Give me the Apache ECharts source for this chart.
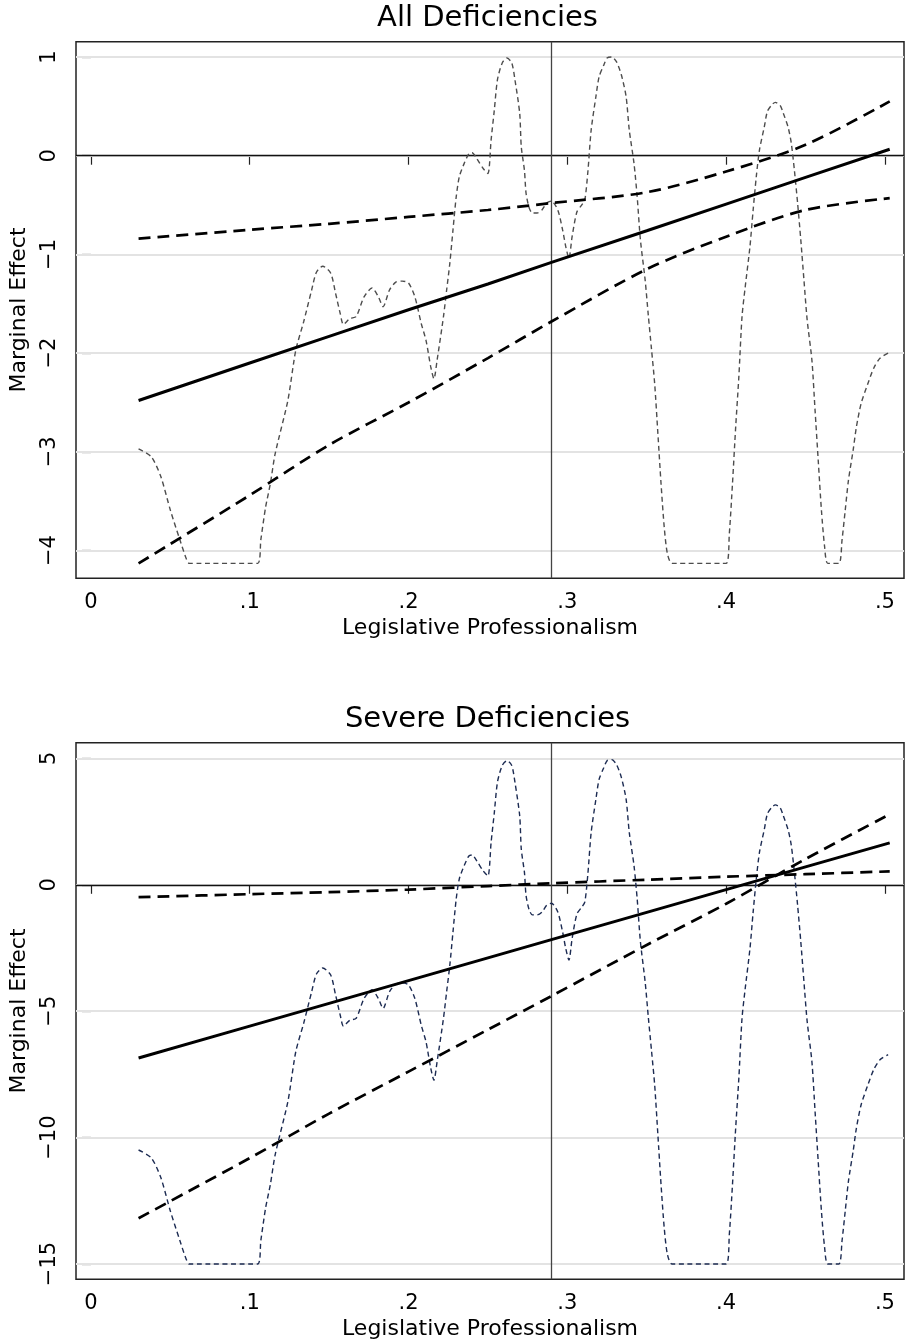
<!DOCTYPE html>
<html>
<head>
<meta charset="utf-8">
<script src="https://cdn.jsdelivr.net/npm/echarts@6/dist/echarts.min.js"></script>
<style>
  html, body { margin: 0; padding: 0; background: #fff; }
  #chart { width: 905px; height: 1344px; }
</style>
</head>
<body>
<div id="chart"></div>
<script>
// 刻度
const xTicks = [0, 0.1, 0.2, 0.3, 0.4, 0.5];
const allTicks = [-4, -3, -2, -1, 0, 1];
const sevTicks = [-15, -10, -5, 0, 5];
const meanX = 0.29;

// 边际效应及置信区间 (x 位置)
const lineX = [0.03, 0.1, 0.15, 0.2, 0.25, 0.29, 0.35, 0.4, 0.45, 0.503];
const allEffect = [-2.48, -2.10, -1.83, -1.56, -1.30, -1.08, -0.76, -0.49, -0.22, 0.065];
const allUpper  = [-0.84, -0.75, -0.69, -0.62, -0.55, -0.48, -0.37, -0.16, 0.11, 0.55];
const allLower  = [-4.13, -3.44, -2.93, -2.50, -2.05, -1.68, -1.15, -0.82, -0.55, -0.43];
const sevEffect = [-6.85, -5.59, -4.69, -3.79, -2.89, -2.17, -1.09, -0.19, 0.71, 1.66];
const sevBoundA = [-0.49, -0.37, -0.29, -0.19, -0.05, 0.06, 0.20, 0.32, 0.42, 0.53];
const sevBoundB = [-13.19, -10.81, -9.05, -7.39, -5.73, -4.40, -2.38, -0.75, 1.02, 2.79];

// 专业化程度分布 (缩放到各面板)
const densX = [
  0.030, 0.038, 0.044, 0.050, 0.056, 0.060, 0.062, 0.105, 0.107, 0.110,
  0.113, 0.116, 0.124, 0.129, 0.134, 0.139, 0.142, 0.146, 0.151, 0.154,
  0.157, 0.159, 0.163, 0.167, 0.172, 0.177, 0.181, 0.184, 0.188, 0.192,
  0.196, 0.200, 0.204, 0.208, 0.211, 0.214, 0.216, 0.218, 0.222, 0.224,
  0.226, 0.228, 0.230, 0.232, 0.235, 0.238, 0.240, 0.243, 0.247, 0.250,
  0.252, 0.254, 0.256, 0.259, 0.262, 0.265, 0.267, 0.270, 0.271, 0.273,
  0.274, 0.276, 0.278, 0.281, 0.284, 0.287, 0.290, 0.294, 0.297, 0.299,
  0.301, 0.303, 0.306, 0.309, 0.311, 0.313, 0.315, 0.318, 0.320, 0.323,
  0.325, 0.328, 0.331, 0.334, 0.337, 0.339, 0.342, 0.344, 0.346, 0.349,
  0.351, 0.353, 0.355, 0.357, 0.359, 0.361, 0.363, 0.366, 0.400, 0.402,
  0.404, 0.406, 0.408, 0.410, 0.412, 0.415, 0.417, 0.419, 0.421, 0.424,
  0.426, 0.429, 0.431, 0.434, 0.436, 0.439, 0.441, 0.443, 0.445, 0.447,
  0.449, 0.451, 0.454, 0.456, 0.458, 0.460, 0.462, 0.464, 0.471, 0.473,
  0.475, 0.477, 0.480, 0.482, 0.485, 0.489, 0.493, 0.497, 0.502
];
const allDensity = [
  -2.97, -3.05, -3.25, -3.59, -3.89, -4.08, -4.13, -4.13, -3.89, -3.56,
  -3.32, -3.02, -2.48, -1.97, -1.68, -1.36, -1.18, -1.12, -1.19, -1.39,
  -1.60, -1.71, -1.65, -1.63, -1.43, -1.34, -1.43, -1.53, -1.36, -1.28,
  -1.27, -1.29, -1.43, -1.70, -1.87, -2.14, -2.26, -2.07, -1.63, -1.36,
  -1.09, -0.75, -0.42, -0.21, -0.08, 0.02, 0.03, -0.03, -0.13, -0.18,
  0.16, 0.46, 0.77, 0.94, 0.99, 0.94, 0.77, 0.43, 0.09, -0.15,
  -0.38, -0.53, -0.58, -0.58, -0.55, -0.48, -0.46, -0.55, -0.75, -0.92,
  -1.04, -0.82, -0.57, -0.50, -0.45, -0.15, 0.26, 0.60, 0.80, 0.92,
  0.99, 1.00, 0.95, 0.82, 0.60, 0.26, -0.08, -0.42, -0.85, -1.26,
  -1.62, -1.96, -2.31, -2.81, -3.32, -3.76, -4.03, -4.13, -4.13, -3.83,
  -3.32, -2.75, -2.24, -1.63, -1.33, -0.92, -0.55, -0.21, 0.06, 0.29,
  0.45, 0.52, 0.54, 0.51, 0.43, 0.29, 0.13, -0.15, -0.48, -0.85,
  -1.26, -1.66, -2.07, -2.58, -3.09, -3.59, -3.96, -4.13, -4.13, -3.89,
  -3.59, -3.29, -2.98, -2.75, -2.51, -2.32, -2.15, -2.05, -2.00
];
const sevDensity = [
  -10.49, -10.80, -11.58, -12.90, -14.07, -14.81, -15.0, -15.0, -14.07, -12.78,
  -11.85, -10.68, -8.58, -6.60, -5.47, -4.23, -3.53, -3.29, -3.57, -4.34,
  -5.16, -5.59, -5.36, -5.28, -4.50, -4.15, -4.50, -4.89, -4.23, -3.92,
  -3.88, -3.96, -4.50, -5.55, -6.21, -7.26, -7.73, -6.99, -5.28, -4.23,
  -3.18, -1.86, -0.57, 0.24, 0.75, 1.14, 1.18, 0.94, 0.55, 0.35,
  1.68, 2.84, 4.06, 4.72, 4.91, 4.72, 4.06, 2.73, 1.41, 0.48,
  -0.42, -1.00, -1.19, -1.19, -1.08, -0.81, -0.73, -1.08, -1.86, -2.52,
  -2.98, -2.13, -1.16, -0.89, -0.69, 0.48, 2.07, 3.39, 4.17, 4.64,
  4.91, 4.95, 4.75, 4.25, 3.39, 2.07, 0.75, -0.57, -2.24, -3.84,
  -5.24, -6.56, -7.92, -9.87, -11.85, -13.56, -14.61, -15.0, -15.0, -13.83,
  -11.85, -9.63, -7.65, -5.28, -4.11, -2.52, -1.08, 0.24, 1.29, 2.18,
  2.81, 3.08, 3.16, 3.05, 2.73, 2.18, 1.57, 0.48, -0.81, -2.24,
  -3.84, -5.39, -6.99, -8.97, -10.96, -12.90, -14.34, -15.0, -15.0, -14.07,
  -12.90, -11.73, -10.53, -9.63, -8.70, -7.96, -7.30, -6.91, -6.72
];

const FONT = 'DejaVu Sans';

function pairs(xs, ys) {
  return xs.map((x, i) => [x, ys[i]]);
}

function fmtX(v) {
  return v === 0 ? '0' : String(v).replace(/^0/, '');
}
function fmtY(v) {
  return String(v).replace('-', '\u2212');
}

function xAxisFor(idx) {
  return {
    gridIndex: idx, type: 'value', min: -0.0094, max: 0.512,
    axisLine: { show: false },
    splitLine: { show: false },
    axisTick: { show: true, length: 9, customValues: xTicks, lineStyle: { color: '#222', width: 1.2 } },
    axisLabel: { customValues: xTicks, formatter: fmtX, margin: 14, fontFamily: FONT, fontSize: 21, color: '#000' },
    name: 'Legislative Professionalism', nameLocation: 'middle', nameGap: 39,
    nameTextStyle: { fontFamily: FONT, fontSize: 22, color: '#000' }
  };
}

function yAxisFor(idx, min, max, ticks) {
  return {
    gridIndex: idx, type: 'value', min: min, max: max,
    axisLine: { show: false },
    splitLine: { show: false },
    axisTick: { show: true, length: 9, customValues: ticks, lineStyle: { color: '#222', width: 1.2 } },
    axisLabel: { customValues: ticks, formatter: fmtY, rotate: 90, margin: 16, fontFamily: FONT, fontSize: 21, color: '#000' },
    name: 'Marginal Effect', nameLocation: 'middle', nameRotate: 90, nameGap: 46,
    nameTextStyle: { fontFamily: FONT, fontSize: 22, color: '#000' }
  };
}

// 每个面板的系列
function panelSeries(idx, ticks, effect, boundA, boundB, density, densColor) {
  const common = { xAxisIndex: idx, yAxisIndex: idx, symbol: 'none', silent: true };
  return [
    {
      // 网格线和参考线 (放在最底层)
      ...common, type: 'line', z: 1,
      data: pairs(lineX, effect), lineStyle: { opacity: 0 },
      markLine: {
        z: 1, silent: true, symbol: ['none', 'none'], label: { show: false }, animation: false,
        data: ticks.map(v => ({ yAxis: v, lineStyle: { color: '#e3e3e3', width: 2, type: 'solid' } }))
          .concat([
            { yAxis: 0, lineStyle: { color: '#111', width: 1.4, type: 'solid' } },
            { xAxis: meanX, lineStyle: { color: '#444', width: 1.3, type: 'solid' } }
          ])
      }
    },
    {
      ...common, type: 'line', z: 3, smooth: 0.25,
      data: pairs(densX, density),
      lineStyle: { color: densColor, width: 1.4, type: [5, 3.5] }
    },
    {
      ...common, type: 'line', z: 4, smooth: 0.3,
      data: pairs(lineX, boundA),
      lineStyle: { color: '#000', width: 2.7, type: [12, 7] }
    },
    {
      ...common, type: 'line', z: 4, smooth: 0.3,
      data: pairs(lineX, boundB),
      lineStyle: { color: '#000', width: 2.7, type: [12, 7] }
    },
    {
      ...common, type: 'line', z: 5,
      data: pairs(lineX, effect),
      lineStyle: { color: '#000', width: 3 }
    }
  ];
}

const chart = echarts.init(document.getElementById('chart'), null, { renderer: 'canvas' });

const option = {
  animation: false,
  backgroundColor: '#fff',
  title: [
    { text: 'All Deficiencies', left: 487.5, top: 4, textAlign: 'center', padding: 0,
      textStyle: { fontFamily: FONT, fontSize: 29, fontWeight: 'normal', color: '#000' } },
    { text: 'Severe Deficiencies', left: 487.5, top: 705, textAlign: 'center', padding: 0,
      textStyle: { fontFamily: FONT, fontSize: 29, fontWeight: 'normal', color: '#000' } }
  ],
  grid: [
    { left: 71, right: 1, top: 41.7, height: 536.5, show: true, borderColor: '#222', borderWidth: 1.5 },
    { left: 71, right: 1, top: 742.7, height: 536.5, show: true, borderColor: '#222', borderWidth: 1.5 }
  ],
  xAxis: [xAxisFor(0), xAxisFor(1)],
  yAxis: [
    yAxisFor(0, -4.28, 1.155, allTicks),
    yAxisFor(1, -15.6, 5.62, sevTicks)
  ],
  series: [
    ...panelSeries(0, allTicks, allEffect, allUpper, allLower, allDensity, '#4d4d4d'),
    ...panelSeries(1, sevTicks, sevEffect, sevBoundA, sevBoundB, sevDensity, '#1c2b52')
  ]
};

chart.setOption(option);
</script>
</body>
</html>
